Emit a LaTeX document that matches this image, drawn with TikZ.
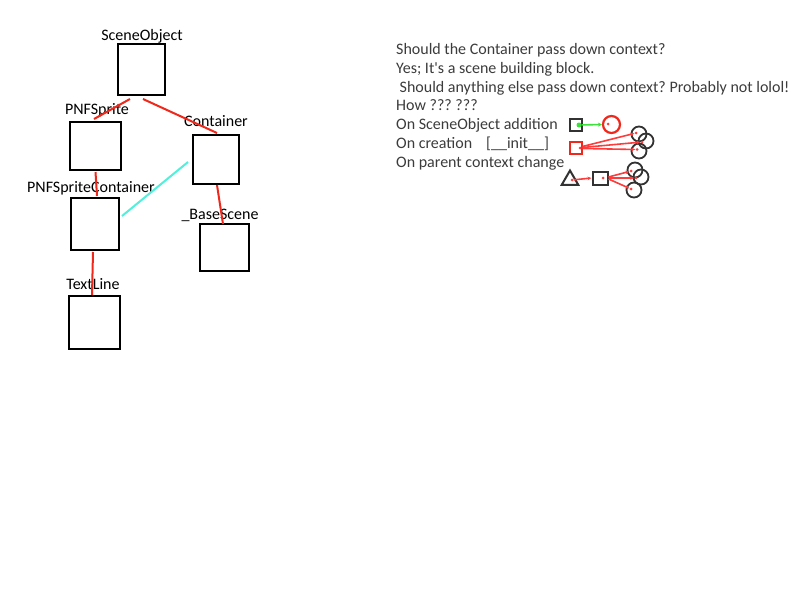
\documentclass[tikz,border=0pt]{standalone}
\usepackage{fontspec}
\setmainfont{Carlito}
\usetikzlibrary{arrows.meta,shapes.geometric}
\definecolor{edgered}{RGB}{240,40,28}
\definecolor{linkred}{RGB}{255,60,60}
\definecolor{linkcyan}{RGB}{80,240,220}
\definecolor{linkgreen}{RGB}{60,225,60}
\definecolor{objgray}{RGB}{50,50,50}
\definecolor{textgray}{RGB}{60,60,60}
\frenchspacing

\begin{document}
\begin{tikzpicture}[x=1pt,y=-1pt,font=\fontsize{16}{19}\selectfont,
	box/.style={draw,line width=2pt,minimum width=48pt,minimum height=50pt,inner sep=0pt},
	lbl/.style={anchor=base,inner sep=0pt},
	note/.style={anchor=base west,inner sep=0pt,text=textgray},
	edge/.style={edgered,line width=2pt},
	objbox/.style={draw=objgray,line width=2pt,minimum size=12pt,inner sep=0pt},
	ring/.style={draw=objgray,circle,line width=1.8pt,minimum size=15pt,inner sep=0pt},
	tri/.style={draw=objgray,regular polygon,regular polygon sides=3,line width=2pt,minimum size=19pt,inner sep=0pt},
	dot/.style={fill=linkred,circle,minimum size=3pt,inner sep=0pt},
	rlink/.style={linkred,line width=1.6pt,-{Stealth[length=4pt,width=3.5pt]}}]
	\useasboundingbox[fill=white] (0,0) rectangle (800,600);

	\node[box,minimum width=47pt,minimum height=51pt] (sceneobj) at (141.5,69.5) {};
	\node[box,minimum width=51pt,minimum height=48pt] (pnfsprite) at (95.5,146) {};
	\node[box,minimum width=46pt,minimum height=49pt] (container) at (216,159.5) {};
	\node[box,minimum width=48pt,minimum height=52pt] (pnfspritecont) at (95,224) {};
	\node[box,minimum width=49pt,minimum height=47pt] (basescene) at (224.5,247.5) {};
	\node[box,minimum width=51pt,minimum height=53pt] (textline) at (94.5,322.5) {};

	\node[lbl] (sceneobjlbl) at (142,40) {SceneObject};
	\node[lbl] (pnfspritelbl) at (97,114.5) {PNFSprite};
	\node[lbl] (containerlbl) at (216,126) {Container};
	\node[lbl] (pnfspritecontlbl) at (91,192) {PNFSpriteContainer};
	\node[lbl] (basescenelbl) at (220,219) {\_BaseScene};
	\node[lbl] (textlinelbl) at (93,289) {TextLine};

	\draw[edge] ([xshift=-11.5pt,yshift=-3pt]sceneobj.south) -- ([xshift=-1.5pt,yshift=2pt]pnfsprite.north);
	\draw[edge] ([xshift=1.5pt,yshift=-3pt]sceneobj.south) -- ([xshift=1pt,yshift=1pt]container.north);
	\draw[edge] ([yshift=-1pt]pnfsprite.south) -- ([xshift=2pt,yshift=1pt]pnfspritecont.north);
	\draw[edge] ([xshift=1pt]container.south) -- ([xshift=-1.5pt,yshift=-1pt]basescene.north);
	\draw[edge] ([xshift=-2pt,yshift=-1pt]pnfspritecont.south) -- ([xshift=-2.5pt]textline.north);
	\draw[linkcyan,line width=2pt] ([xshift=-4pt,yshift=-2.5pt]container.west) -- ([xshift=2pt,yshift=8pt]pnfspritecont.east);

	\node[note] (q1) at (396,54) {Should the Container pass down context?};
	\node[note] (a1) at (396,73) {Yes; It\textquotesingle s a scene building block.};
	\node[note] (q2) at (399.5,92) {Should anything else pass down context? Probably not lolol!};
	\node[note] (how) at (396,110.5) {How ??? ???};
	\node[note] (onadd) at (396,129.5) {On SceneObject addition};
	\node[note] (oncreate) at (396,148.5) {On creation\hspace{14pt}[\_\_init\_\_]};
	\node[note] (onparent) at (396,167.5) {On parent context change};

	\node[objbox] (addobj) at (576,125) {};
	\node[ring,draw=edgered,line width=2.2pt,minimum size=17pt] (addring) at (611.5,124.5) {};
	\node[dot,fill=linkgreen,minimum size=5pt] (addobjdot) at (579,125) {};
	\node[dot] (addringdot) at (608,124) {};
	\draw[linkgreen,line width=1.6pt,-{Stealth[length=4pt,width=4pt]}] (addobjdot) -- (addring.west);

	\node[objbox,draw=edgered] (newobj) at (575.5,147.5) {};
	\node[ring] (newringa) at (639,134) {};
	\node[ring] (newringb) at (646,141) {};
	\node[ring] (newringc) at (639,151) {};
	\node[dot] (newobjdot) at (580,148) {};
	\node[dot] (newringadot) at (636,133) {};
	\node[dot] (newringbdot) at (642,142) {};
	\node[dot] (newringcdot) at (637,149.5) {};
	\draw[rlink] ([yshift=1pt]newobj.east) -- (newringadot);
	\draw[rlink] (newobj.east) -- (newringbdot);
	\draw[rlink] ([yshift=-1pt]newobj.east) -- (newringcdot);

	\node[tri] (parent) at (570,180) {};
	\node[objbox,minimum width=15pt,minimum height=13pt] (childobj) at (600,178) {};
	\node[ring] (childringa) at (635,170) {};
	\node[ring] (childringb) at (641,177) {};
	\node[ring] (childringc) at (634,190) {};
	\node[dot] (parentdot) at (572,180) {};
	\node[dot] (childobjdot) at (603,178) {};
	\node[dot] (childringadot) at (631,171) {};
	\node[dot] (childringbdot) at (636,178) {};
	\node[dot] (childringcdot) at (631,189) {};
	\draw[rlink] (parentdot) -- (childobj.west);
	\draw[rlink] ([yshift=1pt]childobj.east) -- (childringadot);
	\draw[rlink] (childobj.east) -- (childringbdot);
	\draw[rlink] ([yshift=-1pt]childobj.east) -- (childringcdot);
\end{tikzpicture}
\end{document}
